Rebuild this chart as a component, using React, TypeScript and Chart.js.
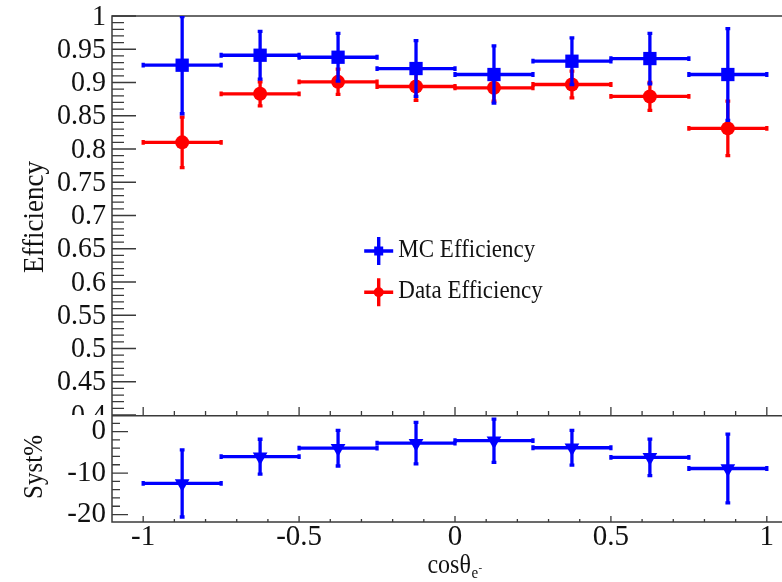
import React, { useEffect, useRef } from "react";
import { Chart, registerables } from "chart.js";
Chart.register(...registerables);

// ---- data ----
const binCenters = [-0.875, -0.625, -0.375, -0.125, 0.125, 0.375, 0.625, 0.875];
const binHalfWidth = 0.125;
const mcEff = [0.926, 0.941, 0.938, 0.921, 0.912, 0.932, 0.936, 0.912];
const mcErr = [0.073, 0.036, 0.036, 0.042, 0.043, 0.035, 0.038, 0.069];
const dataEff = [0.81, 0.883, 0.901, 0.894, 0.892, 0.897, 0.879, 0.831];
const dataErr = [0.038, 0.018, 0.019, 0.021, 0.02, 0.02, 0.021, 0.041];
const systPct = [-12.5, -6.05, -4.0, -2.8, -2.2, -3.9, -6.2, -8.9];
const systErr = [8.1, 4.2, 4.3, 5.0, 5.2, 4.2, 4.4, 8.3];
const effTicks = [0.4, 0.45, 0.5, 0.55, 0.6, 0.65, 0.7, 0.75, 0.8, 0.85, 0.9, 0.95, 1.0];
const systTicks = [-20, -10, 0];
const xTicks = [-1, -0.5, 0, 0.5, 1];
const legendLabels = ["MC Efficiency", "Data Efficiency"];

const BLUE = "#0000ff";
const RED = "#ff0000";
const FONT = '"Liberation Serif", "Times New Roman", serif';
const INK = "#111111";
const FRAME = "#3a3a3a";

function drawText(
  ctx: CanvasRenderingContext2D,
  s: string,
  x: number,
  y: number,
  size: number,
  align: CanvasTextAlign,
  baseline: CanvasTextBaseline,
  rot = 0,
  k = 1.06
) {
  ctx.save();
  ctx.translate(x, y);
  if (rot) ctx.rotate(rot);
  ctx.scale(1, k);
  ctx.font = `${size}px ${FONT}`;
  ctx.textAlign = align;
  ctx.textBaseline = baseline;
  ctx.fillStyle = INK;
  ctx.fillText(s, 0, 0);
  ctx.restore();
}

function minorValues(majors: number[], div: number, lo: number, hi: number) {
  const step = (majors[1] - majors[0]) / div;
  const out: number[] = [];
  for (let v = majors[0]; v >= lo - 1e-9; v -= step) out.push(v);
  for (let v = majors[0] + step; v <= hi + 1e-9; v += step) out.push(v);
  return out
    .filter((v) => v > lo + 1e-6 && v < hi - 1e-6)
    .filter((v) => !majors.some((m) => Math.abs(m - v) < 1e-6));
}

function fmt(v: number) {
  return String(Number(v.toFixed(2)));
}

const errorBarPlugin = {
  id: "errbars",
  beforeDatasetDraw(chart: any, args: any) {
    const ds = chart.data.datasets[args.index];
    if (!ds.yErr) return;
    const ctx: CanvasRenderingContext2D = chart.ctx;
    const xs = chart.scales.x;
    const ys = chart.scales.y;
    const { left, right, top, bottom } = chart.chartArea;
    ctx.save();
    ctx.beginPath();
    ctx.rect(left, top, right - left, bottom - top);
    ctx.clip();
    ctx.strokeStyle = ds.borderColor;
    ctx.lineWidth = 3.3;
    ctx.lineCap = "butt";
    const cap = 2.4;
    ds.data.forEach((p: any, j: number) => {
      const xc = xs.getPixelForValue(p.x);
      const yc = ys.getPixelForValue(p.y);
      const x0 = xs.getPixelForValue(p.x - ds.xErr);
      const x1 = xs.getPixelForValue(p.x + ds.xErr);
      const y0 = ys.getPixelForValue(p.y - ds.yErr[j]);
      const y1 = ys.getPixelForValue(p.y + ds.yErr[j]);
      ctx.beginPath();
      ctx.moveTo(x0, yc);
      ctx.lineTo(x1, yc);
      ctx.moveTo(xc, y0);
      ctx.lineTo(xc, y1);
      ctx.moveTo(x0, yc - cap);
      ctx.lineTo(x0, yc + cap);
      ctx.moveTo(x1, yc - cap);
      ctx.lineTo(x1, yc + cap);
      ctx.moveTo(xc - cap, y0);
      ctx.lineTo(xc + cap, y0);
      ctx.moveTo(xc - cap, y1);
      ctx.lineTo(xc + cap, y1);
      ctx.stroke();
    });
    ctx.restore();
  },
};

const topDecor = {
  id: "topDecor",
  beforeDatasetsDraw(chart: any) {
    const ctx: CanvasRenderingContext2D = chart.ctx;
    const { left, right, top, bottom } = chart.chartArea;
    const xs = chart.scales.x;
    const ys = chart.scales.y;
    ctx.save();
    ctx.strokeStyle = FRAME;
    ctx.lineWidth = 1.5;
    ctx.beginPath();
    ctx.moveTo(left, bottom);
    ctx.lineTo(left, top);
    ctx.lineTo(right, top);
    ctx.lineTo(right, bottom);
    ctx.stroke();
    ctx.lineWidth = 1.3;
    ctx.beginPath();
    const yMaj = ys.ticks.map((t: any) => t.value);
    yMaj.forEach((v: number) => {
      const y = ys.getPixelForValue(v);
      ctx.moveTo(left, y);
      ctx.lineTo(left + 24, y);
    });
    minorValues(yMaj, 5, ys.min, ys.max).forEach((v) => {
      const y = ys.getPixelForValue(v);
      ctx.moveTo(left, y);
      ctx.lineTo(left + 12, y);
    });
    const xMaj = xs.ticks.map((t: any) => t.value);
    xMaj.forEach((v: number) => {
      const x = xs.getPixelForValue(v);
      ctx.moveTo(x, bottom);
      ctx.lineTo(x, bottom - 8);
    });
    minorValues(xMaj, 5, xs.min, xs.max).forEach((v) => {
      const x = xs.getPixelForValue(v);
      ctx.moveTo(x, bottom);
      ctx.lineTo(x, bottom - 4);
    });
    ctx.stroke();
    yMaj.forEach((v: number) => {
      drawText(ctx, fmt(v), 106, ys.getPixelForValue(v) + 1, 28, "right", "middle", 0, 1.05);
    });
    drawText(ctx, "Efficiency", 43, 217, 27, "center", "alphabetic", -Math.PI / 2, 1.08);
    ctx.restore();
  },
  afterDraw(chart: any) {
    const ctx: CanvasRenderingContext2D = chart.ctx;
    const items = [
      { label: legendLabels[0], color: BLUE, cy: 251, shape: "rect" },
      { label: legendLabels[1], color: RED, cy: 292.3, shape: "circle" },
    ];
    ctx.save();
    items.forEach((it) => {
      const cx = 378.7;
      ctx.strokeStyle = it.color;
      ctx.fillStyle = it.color;
      ctx.lineWidth = 3.4;
      ctx.beginPath();
      ctx.moveTo(cx - 14.5, it.cy);
      ctx.lineTo(cx + 14.5, it.cy);
      ctx.moveTo(cx, it.cy - 14);
      ctx.lineTo(cx, it.cy + 14);
      ctx.stroke();
      ctx.beginPath();
      if (it.shape === "rect") ctx.rect(cx - 4.5, it.cy - 4.5, 9, 9);
      else ctx.arc(cx, it.cy, 5, 0, Math.PI * 2);
      ctx.fill();
      drawText(ctx, it.label, 398.3, it.cy + 5.6, 23, "left", "alphabetic", 0, 1.08);
    });
    ctx.restore();
  },
};

const botDecor = {
  id: "botDecor",
  beforeDatasetsDraw(chart: any) {
    const ctx: CanvasRenderingContext2D = chart.ctx;
    const { left, right, top, bottom } = chart.chartArea;
    const xs = chart.scales.x;
    const ys = chart.scales.y;
    ctx.save();
    ctx.strokeStyle = FRAME;
    ctx.lineWidth = 1.5;
    ctx.strokeRect(left, top + 0.75, right - left, bottom - top - 0.75);
    ctx.lineWidth = 1.3;
    ctx.beginPath();
    const yMaj = ys.ticks.map((t: any) => t.value);
    yMaj.forEach((v: number) => {
      const y = ys.getPixelForValue(v);
      ctx.moveTo(left, y);
      ctx.lineTo(left + 16, y);
    });
    minorValues(yMaj, 5, ys.min, ys.max).forEach((v) => {
      const y = ys.getPixelForValue(v);
      ctx.moveTo(left, y);
      ctx.lineTo(left + 8, y);
    });
    const xMaj = xs.ticks.map((t: any) => t.value);
    xMaj.forEach((v: number) => {
      const x = xs.getPixelForValue(v);
      ctx.moveTo(x, bottom);
      ctx.lineTo(x, bottom - 6);
    });
    minorValues(xMaj, 5, xs.min, xs.max).forEach((v) => {
      const x = xs.getPixelForValue(v);
      ctx.moveTo(x, bottom);
      ctx.lineTo(x, bottom - 3);
    });
    ctx.stroke();
    yMaj.forEach((v: number) => {
      drawText(ctx, fmt(v), 106, ys.getPixelForValue(v), 29, "right", "middle", 0, 1.02);
    });
    xMaj.forEach((v: number) => {
      drawText(ctx, fmt(v), xs.getPixelForValue(v), bottom + 15.5, 29, "center", "middle", 0, 1.02);
    });
    drawText(ctx, "Syst%", 42, 52, 25, "center", "alphabetic", -Math.PI / 2, 1.08);
    const base = bottom + 51;
    ctx.font = `24px ${FONT}`;
    const main = "cos\u03b8";
    const w1 = ctx.measureText(main).width;
    ctx.font = `15px ${FONT}`;
    const w2 = ctx.measureText("e").width;
    const total = w1 + w2 + 5;
    const x0 = xs.getPixelForValue(0) - total / 2;
    drawText(ctx, main, x0, base, 24, "left", "alphabetic", 0, 1.1);
    drawText(ctx, "e", x0 + w1 + 0.5, base + 4.5, 15, "left", "alphabetic", 0, 1.1);
    drawText(ctx, "-", x0 + w1 + w2 + 1, base - 2, 11, "left", "alphabetic", 0, 1.0);
    ctx.restore();
  },
};

function explicitTicks(values: number[]) {
  return (scale: any) => {
    scale.ticks = values.map((v) => ({ value: v }));
  };
}

export default function App() {
  const topRef = useRef<HTMLCanvasElement>(null);
  const botRef = useRef<HTMLCanvasElement>(null);

  useEffect(() => {
    const hiddenAxis = {
      grid: { display: false },
      border: { display: false },
      ticks: { display: false },
    };
    const topChart = new Chart(topRef.current as HTMLCanvasElement, {
      type: "scatter",
      data: {
        datasets: [
          {
            label: legendLabels[0],
            data: binCenters.map((x, i) => ({ x, y: mcEff[i] })),
            yErr: mcErr,
            xErr: binHalfWidth,
            borderColor: BLUE,
            backgroundColor: BLUE,
            pointBackgroundColor: BLUE,
            pointStyle: "rect",
            pointRadius: 9.4,
            pointBorderWidth: 0,
            showLine: false,
          } as any,
          {
            label: legendLabels[1],
            data: binCenters.map((x, i) => ({ x, y: dataEff[i] })),
            yErr: dataErr,
            xErr: binHalfWidth,
            borderColor: RED,
            backgroundColor: RED,
            pointBackgroundColor: RED,
            pointStyle: "circle",
            pointRadius: 7,
            pointBorderWidth: 0,
            showLine: false,
          } as any,
        ],
      },
      options: {
        animation: false,
        responsive: false,
        devicePixelRatio: 1,
        events: [],
        layout: { autoPadding: false, padding: { top: 16, left: 0, right: 2, bottom: 0 } },
        plugins: { legend: { display: false }, tooltip: { enabled: false } },
        scales: {
          x: {
            type: "linear",
            min: -1.1,
            max: 1.1,
            display: false,
            afterBuildTicks: explicitTicks(xTicks),
          },
          y: {
            type: "linear",
            min: 0.4,
            max: 1.0,
            ...hiddenAxis,
            afterBuildTicks: explicitTicks(effTicks),
            afterFit: (s: any) => {
              s.width = 112;
            },
          },
        },
      } as any,
      plugins: [topDecor, errorBarPlugin],
    });

    const botChart = new Chart(botRef.current as HTMLCanvasElement, {
      type: "scatter",
      data: {
        datasets: [
          {
            label: "Syst%",
            data: binCenters.map((x, i) => ({ x, y: systPct[i] })),
            yErr: systErr,
            xErr: binHalfWidth,
            borderColor: BLUE,
            backgroundColor: BLUE,
            pointBackgroundColor: BLUE,
            pointStyle: "triangle",
            rotation: 180,
            pointRotation: 180,
            pointRadius: 8.5,
            pointBorderWidth: 0,
            showLine: false,
          } as any,
        ],
      },
      options: {
        animation: false,
        responsive: false,
        devicePixelRatio: 1,
        events: [],
        layout: { autoPadding: false, padding: { top: 0, left: 0, right: 2, bottom: 0 } },
        plugins: { legend: { display: false }, tooltip: { enabled: false } },
        scales: {
          x: {
            type: "linear",
            min: -1.1,
            max: 1.1,
            ...hiddenAxis,
            afterBuildTicks: explicitTicks(xTicks),
            afterFit: (s: any) => {
              s.height = 60;
            },
          },
          y: {
            type: "linear",
            min: -21.8,
            max: 4.0,
            ...hiddenAxis,
            afterBuildTicks: explicitTicks(systTicks),
            afterFit: (s: any) => {
              s.width = 112;
            },
          },
        },
      } as any,
      plugins: [botDecor, errorBarPlugin],
    });

    return () => {
      topChart.destroy();
      botChart.destroy();
    };
  }, []);

  return (
    <div
      style={{
        position: "fixed",
        left: 0,
        top: 0,
        width: 782,
        height: 582,
        overflow: "hidden",
        background: "#ffffff",
      }}
    >
      <canvas
        ref={topRef}
        width={800}
        height={415}
        style={{ position: "absolute", left: 0, top: 0, width: 800, height: 415 }}
      />
      <canvas
        ref={botRef}
        width={800}
        height={167}
        style={{ position: "absolute", left: 0, top: 415, width: 800, height: 167 }}
      />
    </div>
  );
}
